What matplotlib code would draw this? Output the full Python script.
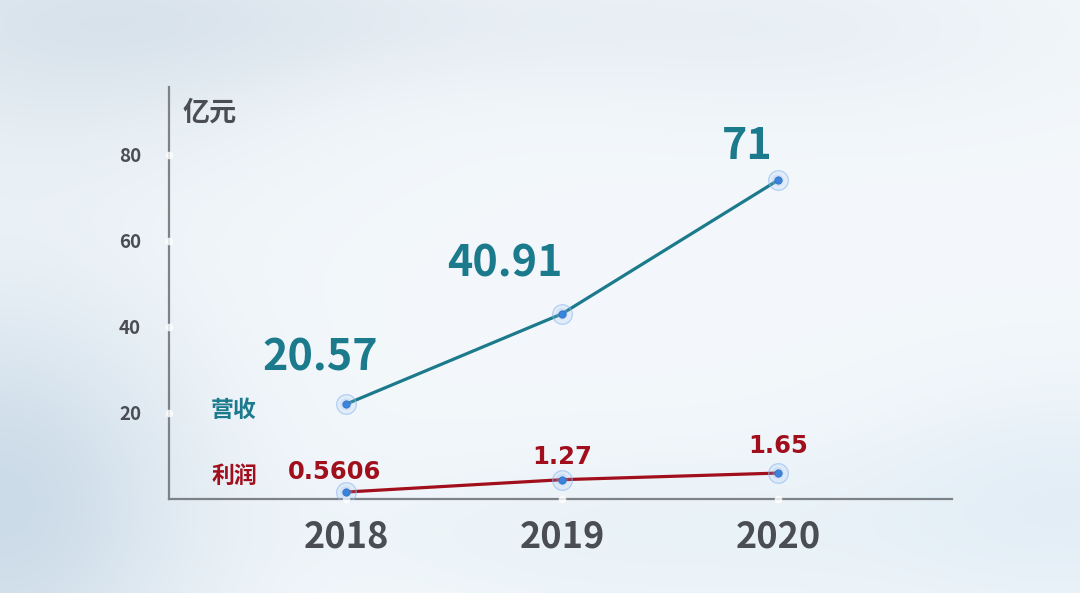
import numpy as np
import matplotlib
matplotlib.use("Agg")
import matplotlib.pyplot as plt

plt.rcParams['font.family'] = ['Noto Sans CJK SC', 'DejaVu Sans']

# ---- data ----
years = ["2018", "2019", "2020"]
revenue = [20.57, 40.91, 71]
profit = [0.5606, 1.27, 1.65]
revenue_labels = ["20.57", "40.91", "71"]
profit_labels = ["0.5606", "1.27", "1.65"]
yticks = [20, 40, 60, 80]
unit_label = "亿元"
series_names = ["营收", "利润"]

TEAL = "#1b7a8c"
RED = "#a10f1d"
GRAY = "#4a4e54"

W, H = 1080, 593
fig = plt.figure(figsize=(W / 100, H / 100), dpi=100)

# ---- background (soft gradient) ----
bg = fig.add_axes([0, 0, 1, 1])
yy, xx = np.mgrid[0:1:300j, 0:1:540j]
base = np.array([0.955, 0.972, 0.985])
img = np.ones((300, 540, 3)) * base

def blob(cx, cy, sx, sy, col, amt):
    g = np.exp(-(((xx - cx) / sx) ** 2 + ((yy - cy) / sy) ** 2))
    return g[..., None] * (np.array(col) - base) * amt

img += blob(0.0, 0.85, 0.18, 0.35, [0.80, 0.86, 0.91], 1.0)
img += blob(0.05, 0.05, 0.25, 0.25, [0.86, 0.90, 0.93], 0.8)
img += blob(0.30, 0.03, 0.35, 0.12, [0.88, 0.91, 0.94], 0.6)
img += blob(0.75, 0.05, 0.25, 0.15, [0.89, 0.92, 0.95], 0.5)
img += blob(1.0, 0.85, 0.2, 0.2, [0.87, 0.92, 0.96], 0.7)
img += blob(0.6, 0.9, 0.3, 0.15, [0.88, 0.93, 0.96], 0.5)
img = np.clip(img, 0, 1)
bg.imshow(img, extent=[0, 1, 0, 1], aspect='auto', origin='upper')
bg.axis('off')

# ---- axes ----
left, right, top, bottom = 169, 952, 87, 499
rect = [left / W, 1 - bottom / H, (right - left) / W, (bottom - top) / H]
ax = fig.add_axes(rect)
ax.patch.set_alpha(0)
x = np.arange(len(years))
ax.set_xlim(-0.82, 2.806)
ax.set_ylim(0, 95.8)
ax.set_yticks(yticks)
ax.set_yticklabels([str(v) for v in yticks], fontsize=13.5, fontweight='bold', color=GRAY)
ax.set_xticks(x)
ax.set_xticklabels(years, fontsize=26, fontweight='bold', color=GRAY)
ax.tick_params(axis='y', length=0, pad=20)
ax.tick_params(axis='x', length=0, pad=14)
for s in ['top', 'right']:
    ax.spines[s].set_visible(False)
for s in ['left', 'bottom']:
    ax.spines[s].set_color('#7d8287')
    ax.spines[s].set_linewidth(1.6)
# small white glints on the axis lines at tick positions
ax.scatter(x, np.zeros(len(x)), s=30, color='white', alpha=0.8, lw=0, zorder=6, clip_on=False)
ax.scatter(np.full(len(yticks), -0.82), yticks, s=30, color='white', alpha=0.8, lw=0,
           zorder=6, clip_on=False)

# revenue axis
axr = fig.add_axes(rect, sharex=ax)
axr.patch.set_alpha(0)
axr.set_ylim(-0.8, 92)
axr.axis('off')
# profit axis
axp = fig.add_axes(rect, sharex=ax)
axp.patch.set_alpha(0)
axp.set_ylim(0.16, 23.84)
axp.axis('off')

def draw_series(a, vals, color):
    a.plot(x, vals, color=color, lw=2.3, zorder=3, solid_capstyle='round')
    a.scatter(x, vals, s=200, facecolor=(0.6, 0.75, 0.95, 0.18),
              edgecolor=(0.55, 0.72, 0.95, 0.6), linewidth=0.9, zorder=4)
    a.scatter(x, vals, s=70, facecolor=(0.6, 0.75, 0.95, 0.25),
              edgecolor='none', zorder=4)
    a.scatter(x, vals, s=28, facecolor='#3a84dc', edgecolor='#2a6cc4',
              linewidth=0.5, zorder=5)

draw_series(axr, revenue, TEAL)
draw_series(axp, profit, RED)

rev_offsets = [(-18.7, 24.5), (-41.4, 26.6), (-22, 15)]
for xi, v, lab, off in zip(x, revenue, revenue_labels, rev_offsets):
    axr.annotate(lab, (xi, v), xytext=off, textcoords='offset points',
                 ha='center', va='baseline', fontsize=31, fontweight='bold', color=TEAL)

prof_offsets = [(-8, 9.4), (0, 11.5), (0, 14.4)]
for xi, v, lab, off in zip(x, profit, profit_labels, prof_offsets):
    axp.annotate(lab, (xi, v), xytext=off, textcoords='offset points',
                 ha='center', va='baseline', fontsize=17.5, fontweight='bold', color=RED,
                 family='DejaVu Sans')

fig.text(183 / W, 1 - 113 / H, unit_label, ha='left', va='center',
         fontsize=19.5, fontweight='bold', color=GRAY)
fig.text(234 / W, 1 - 410 / H, series_names[0], ha='center', va='center',
         fontsize=16.5, fontweight='bold', color=TEAL)
fig.text(234 / W, 1 - 476 / H, series_names[1], ha='center', va='center',
         fontsize=16.5, fontweight='bold', color=RED)

fig.savefig("out.png", dpi=100)
